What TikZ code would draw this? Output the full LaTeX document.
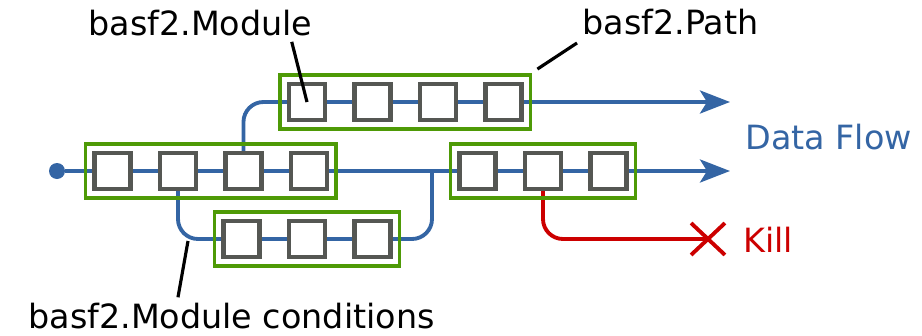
\documentclass[tikz,border=0pt]{standalone}
\usepackage{fontspec}
\setmainfont{DejaVu Sans}
\usepackage{xcolor}
\usepackage{tikz}
\usetikzlibrary{
    arrows.meta,
    backgrounds,
    calc,
    fit,
    positioning,
    shapes.misc
}
\definecolor{basfblue}{HTML}{3465A4}
\definecolor{basfgreen}{HTML}{4E9A06}
\definecolor{basfgray}{HTML}{555753}
\definecolor{basfred}{HTML}{CC0000}
\tikzstyle{flow}=[line width=2.2pt,draw=basfblue]
\tikzstyle{flowarrow}=[flow,-{Stealth[length=0.6cm,width=0.46cm,inset=0.14cm]}]

\begin{document}
\begin{tikzpicture}[
    x=0.02cm,y=-0.02cm,
    node distance=0.59cm,
    module/.style={
        rectangle,
        draw=basfgray,
        fill=white,
        line width=2.6pt,
        minimum size=0.72cm,
        inner sep=0pt,
        outer sep=0pt
    },
    pathbox/.style={
        rectangle,
        draw=basfgreen,
        line width=2.2pt,
        inner sep=0.18cm
    },
    tag/.style={
        inner sep=0pt,
        anchor=base west,
        font=\fontsize{19}{23}\selectfont
    },
    callout/.style={line width=1.8pt,draw=black}
]
\useasboundingbox (0,0) rectangle (922,335);

\node[module] (main1) at (112.5,171) {};
\node[module,right=of main1] (main2) {};
\node[module,right=of main2] (main3) {};
\node[module,right=of main3] (main4) {};
\node[pathbox,fit=(main1)(main4)] (mainpath) {};

\node[module] (top1) at (307,102) {};
\node[module,right=of top1] (top2) {};
\node[module,right=of top2] (top3) {};
\node[module,right=of top3] (top4) {};
\node[pathbox,fit=(top1)(top4)] (toppath) {};

\node[module] (cond1) at (241.5,239) {};
\node[module,right=of cond1] (cond2) {};
\node[module,right=of cond2] (cond3) {};
\node[pathbox,fit=(cond1)(cond3)] (condpath) {};

\node[module] (tail1) at (477.5,171) {};
\node[module,right=of tail1] (tail2) {};
\node[module,right=of tail2] (tail3) {};
\node[pathbox,fit=(tail1)(tail3)] (tailpath) {};

\node[circle,fill=basfblue,minimum size=0.32cm,inner sep=0pt] (start) at (57,171) {};
\coordinate (join) at (432,171);
\coordinate (mainend) at (730,171);
\coordinate (topend) at (730,102);
\node[cross out,draw=basfred,line width=2.2pt,minimum width=0.6cm,
    minimum height=0.56cm,inner sep=0pt] (killx) at (708,239) {};

\begin{pgfonlayer}{background}
\draw[flowarrow] (start) -- (mainend);
\draw[flowarrow,rounded corners=0.4cm] (main3) |- (top1) -- (topend);
\draw[flow,rounded corners=0.4cm] (main2) |- (cond1) -- (cond3) -| (join);
\draw[line width=2.2pt,draw=basfred,rounded corners=0.4cm] (tail2) |- (killx.center);
\end{pgfonlayer}

\node[tag] (modlabel) at (88,35) {basf2.Module};
\node[tag] (pathlabel) at (582,34) {basf2.Path};
\node[tag,text=basfblue] (flowlabel) at (745,149) {Data Flow};
\node[tag,text=basfred] (killlabel) at (743,252) {Kill};
\node[tag] (condlabel) at (28,328) {basf2.Module conditions};
\coordinate (condtip) at (188,241);

\draw[callout] ([shift={(-0.42cm,-0.12cm)}]modlabel.south east) -- (top1.center);
\draw[callout] ([shift={(-0.1cm,-0.18cm)}]pathlabel.base west) -- ([shift={(0.1cm,0.08cm)}]toppath.north east);
\draw[callout] ([shift={(3cm,0.1cm)}]condlabel.north west) -- (condtip);
\end{tikzpicture}
\end{document}
